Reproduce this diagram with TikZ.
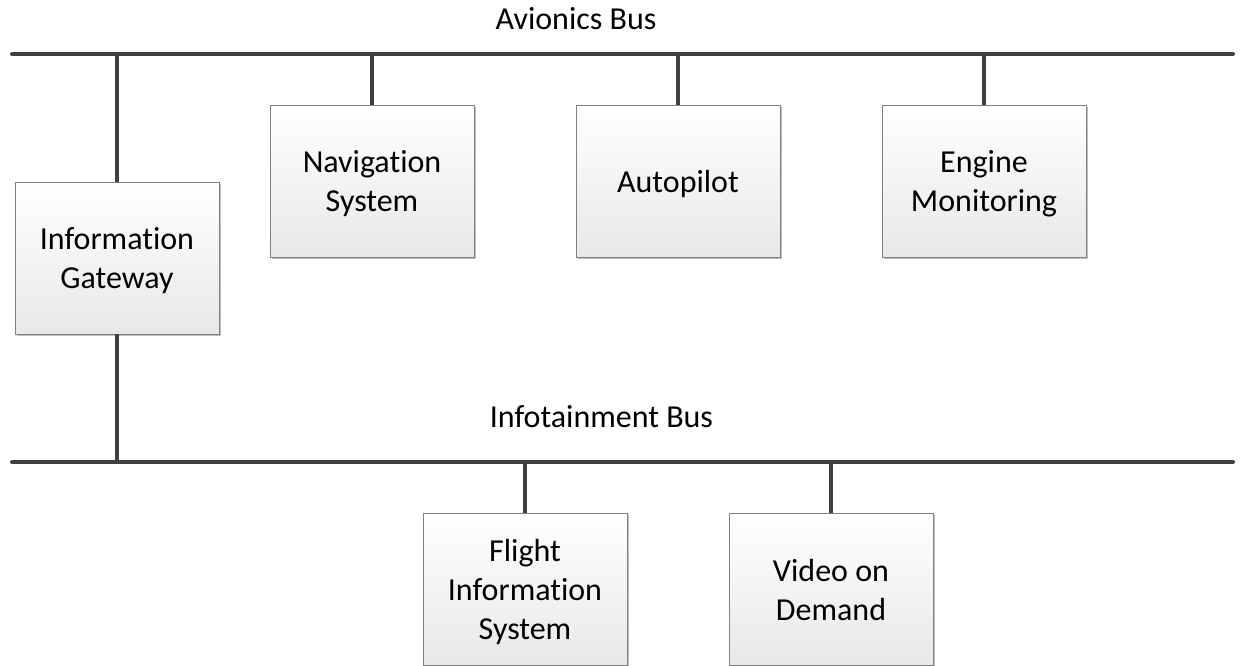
\documentclass[tikz,border=0pt]{standalone}
\usepackage{fontspec}
\setmainfont{Carlito}[Ligatures={NoCommon},RawFeature={-liga}]
\usetikzlibrary{shadows}
\definecolor{busgray}{HTML}{404040}
\definecolor{boxline}{HTML}{808080}
\begin{document}
\begin{tikzpicture}[x=1pt,y=-1pt,
  unit/.style={rectangle, draw=boxline, line width=0.9pt, top color=white, bottom color=black!9,
    minimum width=204pt, minimum height=152pt, inner sep=0pt, align=center,
    font=\fontsize{32}{39}\selectfont, text depth=0pt,
    drop shadow={shadow xshift=1.5pt, shadow yshift=-1.5pt, opacity=0.25, fill=black}},
  bus/.style={draw=busgray, line width=4pt, line cap=round},
  stem/.style={draw=busgray, line width=4pt},
  buslabel/.style={font=\fontsize{32}{39}\selectfont, inner sep=0pt, anchor=base}]
\useasboundingbox (0,0) rectangle (1244,665);
% buses
\coordinate (aL) at (12,54);
\coordinate (aR) at (1233,54);
\coordinate (bL) at (12,462);
\coordinate (bR) at (1233,462);
\node[buslabel] (alab) at (576,29) {Avionics Bus};
\node[buslabel] (blab) at (601.5,427) {Infotainment Bus};
% boxes
\node[unit] (gw) at (117,258) {Information\\Gateway};
\node[unit] (nav) at (372,181) {Navigation\\System};
\node[unit] (ap) at (678,181) {Autopilot};
\node[unit] (eng) at (984,181) {Engine\\Monitoring};
\node[unit] (fis) at (525,589.5) {Flight\\Information\\System};
\node[unit] (vod) at (831,589.5) {Video on\\Demand};
% stems
\draw[stem] (gw.north) -- (gw.north |- aL);
\draw[stem] (gw.south) -- (gw.south |- bL);
\draw[stem] (nav.north) -- (nav.north |- aL);
\draw[stem] (ap.north) -- (ap.north |- aL);
\draw[stem] (eng.north) -- (eng.north |- aL);
\draw[stem] (fis.north) -- (fis.north |- bL);
\draw[stem] (vod.north) -- (vod.north |- bL);
\draw[bus] (aL) -- (aR);
\draw[bus] (bL) -- (bR);
\end{tikzpicture}
\end{document}
